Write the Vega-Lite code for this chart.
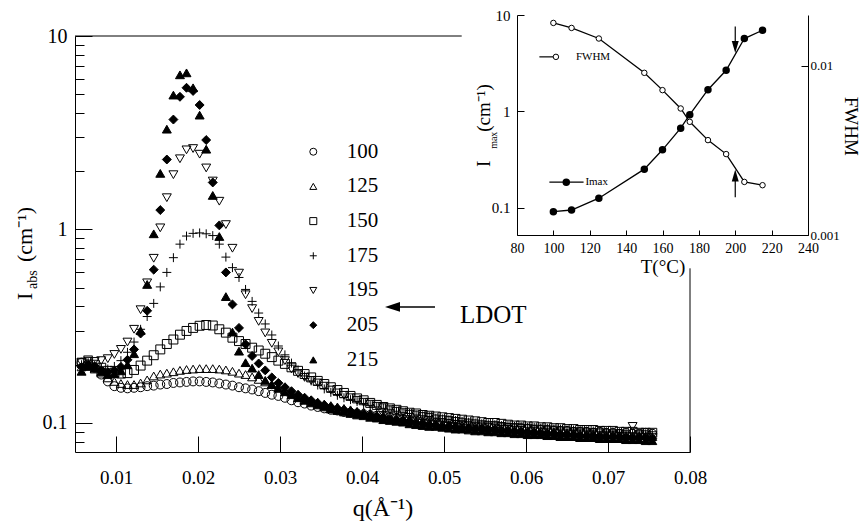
{
"$schema":"https://vega.github.io/schema/vega-lite/v6.json",
"width":615,"height":416,
"autosize":{"type":"none"},
"padding":{"left":75,"top":36,"right":177,"bottom":73},
"background":"white",
"config":{"view":{"stroke":null},
"axis":{"grid":false,"domainColor":"black","tickColor":"black","labelColor":"black","titleColor":"black","labelFont":"Liberation Serif","titleFont":"Liberation Serif","titleFontWeight":"normal","domainWidth":1,"tickWidth":1,"labelFlush":false,"labelOverlap":false},
"text":{"font":"Liberation Serif","color":"black"}},
"datasets":{
"scat":[
{"s":"100","q":0.0058,"I":0.205},{"s":"100","q":0.0066,"I":0.201},{"s":"100","q":0.0074,"I":0.193},{"s":"100","q":0.0082,"I":0.178},{"s":"100","q":0.009,"I":0.164},{"s":"100","q":0.0098,"I":0.155},{"s":"100","q":0.0106,"I":0.152},{"s":"100","q":0.0114,"I":0.151},{"s":"100","q":0.0122,"I":0.152},{"s":"100","q":0.013,"I":0.153},
{"s":"100","q":0.0138,"I":0.155},{"s":"100","q":0.0146,"I":0.156},{"s":"100","q":0.0154,"I":0.158},{"s":"100","q":0.0162,"I":0.159},{"s":"100","q":0.017,"I":0.161},{"s":"100","q":0.0178,"I":0.162},{"s":"100","q":0.0186,"I":0.163},{"s":"100","q":0.0194,"I":0.164},{"s":"100","q":0.0202,"I":0.164},{"s":"100","q":0.021,"I":0.163},
{"s":"100","q":0.0218,"I":0.162},{"s":"100","q":0.0226,"I":0.160},{"s":"100","q":0.0234,"I":0.158},{"s":"100","q":0.0242,"I":0.156},{"s":"100","q":0.025,"I":0.153},{"s":"100","q":0.0258,"I":0.151},{"s":"100","q":0.0266,"I":0.149},{"s":"100","q":0.0274,"I":0.146},{"s":"100","q":0.0282,"I":0.143},{"s":"100","q":0.029,"I":0.140},
{"s":"100","q":0.0298,"I":0.138},{"s":"100","q":0.0306,"I":0.135},{"s":"100","q":0.0314,"I":0.131},{"s":"100","q":0.0322,"I":0.128},{"s":"100","q":0.033,"I":0.126},{"s":"100","q":0.0338,"I":0.123},{"s":"100","q":0.0346,"I":0.121},{"s":"100","q":0.0354,"I":0.119},{"s":"100","q":0.0362,"I":0.117},{"s":"100","q":0.037,"I":0.116},
{"s":"100","q":0.0378,"I":0.114},{"s":"100","q":0.0386,"I":0.113},{"s":"100","q":0.0394,"I":0.112},{"s":"100","q":0.0402,"I":0.111},{"s":"100","q":0.041,"I":0.110},{"s":"100","q":0.0418,"I":0.109},{"s":"100","q":0.0426,"I":0.108},{"s":"100","q":0.0434,"I":0.107},{"s":"100","q":0.0442,"I":0.106},{"s":"100","q":0.045,"I":0.105},
{"s":"100","q":0.0458,"I":0.104},{"s":"100","q":0.0466,"I":0.103},{"s":"100","q":0.0474,"I":0.102},{"s":"100","q":0.0482,"I":0.101},{"s":"100","q":0.049,"I":0.100},{"s":"100","q":0.0498,"I":0.100},{"s":"100","q":0.0506,"I":0.099},{"s":"100","q":0.0514,"I":0.098},{"s":"100","q":0.0522,"I":0.098},{"s":"100","q":0.053,"I":0.097},
{"s":"100","q":0.0538,"I":0.096},{"s":"100","q":0.0546,"I":0.096},{"s":"100","q":0.0554,"I":0.095},{"s":"100","q":0.0562,"I":0.095},{"s":"100","q":0.057,"I":0.094},{"s":"100","q":0.0578,"I":0.094},{"s":"100","q":0.0586,"I":0.093},{"s":"100","q":0.0594,"I":0.094},{"s":"100","q":0.0602,"I":0.093},{"s":"100","q":0.061,"I":0.092},
{"s":"100","q":0.0618,"I":0.092},{"s":"100","q":0.0626,"I":0.092},{"s":"100","q":0.0634,"I":0.091},{"s":"100","q":0.0642,"I":0.091},{"s":"100","q":0.065,"I":0.091},{"s":"100","q":0.0658,"I":0.090},{"s":"100","q":0.0666,"I":0.090},{"s":"100","q":0.0674,"I":0.090},{"s":"100","q":0.0682,"I":0.089},{"s":"100","q":0.069,"I":0.090},
{"s":"100","q":0.0698,"I":0.089},{"s":"100","q":0.0706,"I":0.089},{"s":"100","q":0.0714,"I":0.088},{"s":"100","q":0.0722,"I":0.089},{"s":"100","q":0.073,"I":0.088},{"s":"100","q":0.0738,"I":0.088},{"s":"100","q":0.0746,"I":0.089},{"s":"100","q":0.0754,"I":0.088},

{"s":"125","q":0.0058,"I":0.195},{"s":"125","q":0.0066,"I":0.197},{"s":"125","q":0.0074,"I":0.190},{"s":"125","q":0.0082,"I":0.181},{"s":"125","q":0.009,"I":0.171},{"s":"125","q":0.0098,"I":0.164},{"s":"125","q":0.0106,"I":0.160},{"s":"125","q":0.0114,"I":0.158},{"s":"125","q":0.0122,"I":0.158},{"s":"125","q":0.013,"I":0.161},
{"s":"125","q":0.0138,"I":0.167},{"s":"125","q":0.0146,"I":0.175},{"s":"125","q":0.0154,"I":0.179},{"s":"125","q":0.0162,"I":0.181},{"s":"125","q":0.017,"I":0.184},{"s":"125","q":0.0178,"I":0.187},{"s":"125","q":0.0186,"I":0.189},{"s":"125","q":0.0194,"I":0.190},{"s":"125","q":0.0202,"I":0.191},{"s":"125","q":0.021,"I":0.191},
{"s":"125","q":0.0218,"I":0.191},{"s":"125","q":0.0226,"I":0.190},{"s":"125","q":0.0234,"I":0.188},{"s":"125","q":0.0242,"I":0.185},{"s":"125","q":0.025,"I":0.181},{"s":"125","q":0.0258,"I":0.178},{"s":"125","q":0.0266,"I":0.173},{"s":"125","q":0.0274,"I":0.168},{"s":"125","q":0.0282,"I":0.163},{"s":"125","q":0.029,"I":0.158},
{"s":"125","q":0.0298,"I":0.153},{"s":"125","q":0.0306,"I":0.148},{"s":"125","q":0.0314,"I":0.143},{"s":"125","q":0.0322,"I":0.139},{"s":"125","q":0.033,"I":0.135},{"s":"125","q":0.0338,"I":0.131},{"s":"125","q":0.0346,"I":0.128},{"s":"125","q":0.0354,"I":0.125},{"s":"125","q":0.0362,"I":0.123},{"s":"125","q":0.037,"I":0.121},
{"s":"125","q":0.0378,"I":0.119},{"s":"125","q":0.0386,"I":0.117},{"s":"125","q":0.0394,"I":0.115},{"s":"125","q":0.0402,"I":0.114},{"s":"125","q":0.041,"I":0.112},{"s":"125","q":0.0418,"I":0.110},{"s":"125","q":0.0426,"I":0.109},{"s":"125","q":0.0434,"I":0.108},{"s":"125","q":0.0442,"I":0.106},{"s":"125","q":0.045,"I":0.105},
{"s":"125","q":0.0458,"I":0.104},{"s":"125","q":0.0466,"I":0.103},{"s":"125","q":0.0474,"I":0.102},{"s":"125","q":0.0482,"I":0.101},{"s":"125","q":0.049,"I":0.100},{"s":"125","q":0.0498,"I":0.099},{"s":"125","q":0.0506,"I":0.098},{"s":"125","q":0.0514,"I":0.098},{"s":"125","q":0.0522,"I":0.097},{"s":"125","q":0.053,"I":0.096},
{"s":"125","q":0.0538,"I":0.096},{"s":"125","q":0.0546,"I":0.095},{"s":"125","q":0.0554,"I":0.094},{"s":"125","q":0.0562,"I":0.094},{"s":"125","q":0.057,"I":0.093},{"s":"125","q":0.0578,"I":0.093},{"s":"125","q":0.0586,"I":0.092},{"s":"125","q":0.0594,"I":0.092},{"s":"125","q":0.0602,"I":0.091},{"s":"125","q":0.061,"I":0.091},
{"s":"125","q":0.0618,"I":0.091},{"s":"125","q":0.0626,"I":0.090},{"s":"125","q":0.0634,"I":0.090},{"s":"125","q":0.0642,"I":0.089},{"s":"125","q":0.065,"I":0.089},{"s":"125","q":0.0658,"I":0.089},{"s":"125","q":0.0666,"I":0.088},{"s":"125","q":0.0674,"I":0.088},{"s":"125","q":0.0682,"I":0.088},{"s":"125","q":0.069,"I":0.087},
{"s":"125","q":0.0698,"I":0.087},{"s":"125","q":0.0706,"I":0.087},{"s":"125","q":0.0714,"I":0.087},{"s":"125","q":0.0722,"I":0.086},{"s":"125","q":0.073,"I":0.086},{"s":"125","q":0.0738,"I":0.086},{"s":"125","q":0.0746,"I":0.086},{"s":"125","q":0.0754,"I":0.085},

{"s":"150","q":0.0058,"I":0.205},{"s":"150","q":0.0066,"I":0.207},{"s":"150","q":0.0074,"I":0.200},{"s":"150","q":0.0082,"I":0.193},{"s":"150","q":0.009,"I":0.186},{"s":"150","q":0.0098,"I":0.182},{"s":"150","q":0.0106,"I":0.180},{"s":"150","q":0.0114,"I":0.181},{"s":"150","q":0.0122,"I":0.188},{"s":"150","q":0.013,"I":0.198},
{"s":"150","q":0.0138,"I":0.210},{"s":"150","q":0.0146,"I":0.224},{"s":"150","q":0.0154,"I":0.240},{"s":"150","q":0.0162,"I":0.256},{"s":"150","q":0.017,"I":0.270},{"s":"150","q":0.0178,"I":0.286},{"s":"150","q":0.0186,"I":0.299},{"s":"150","q":0.0194,"I":0.310},{"s":"150","q":0.0202,"I":0.318},{"s":"150","q":0.021,"I":0.321},
{"s":"150","q":0.0218,"I":0.319},{"s":"150","q":0.0226,"I":0.305},{"s":"150","q":0.0234,"I":0.293},{"s":"150","q":0.0242,"I":0.276},{"s":"150","q":0.025,"I":0.265},{"s":"150","q":0.0258,"I":0.256},{"s":"150","q":0.0266,"I":0.245},{"s":"150","q":0.0274,"I":0.237},{"s":"150","q":0.0282,"I":0.228},{"s":"150","q":0.029,"I":0.219},
{"s":"150","q":0.0298,"I":0.210},{"s":"150","q":0.0306,"I":0.202},{"s":"150","q":0.0314,"I":0.194},{"s":"150","q":0.0322,"I":0.186},{"s":"150","q":0.033,"I":0.179},{"s":"150","q":0.0338,"I":0.172},{"s":"150","q":0.0346,"I":0.165},{"s":"150","q":0.0354,"I":0.159},{"s":"150","q":0.0362,"I":0.153},{"s":"150","q":0.037,"I":0.148},
{"s":"150","q":0.0378,"I":0.143},{"s":"150","q":0.0386,"I":0.138},{"s":"150","q":0.0394,"I":0.134},{"s":"150","q":0.0402,"I":0.131},{"s":"150","q":0.041,"I":0.127},{"s":"150","q":0.0418,"I":0.124},{"s":"150","q":0.0426,"I":0.121},{"s":"150","q":0.0434,"I":0.119},{"s":"150","q":0.0442,"I":0.117},{"s":"150","q":0.045,"I":0.115},
{"s":"150","q":0.0458,"I":0.113},{"s":"150","q":0.0466,"I":0.112},{"s":"150","q":0.0474,"I":0.110},{"s":"150","q":0.0482,"I":0.109},{"s":"150","q":0.049,"I":0.108},{"s":"150","q":0.0498,"I":0.107},{"s":"150","q":0.0506,"I":0.106},{"s":"150","q":0.0514,"I":0.105},{"s":"150","q":0.0522,"I":0.104},{"s":"150","q":0.053,"I":0.103},
{"s":"150","q":0.0538,"I":0.102},{"s":"150","q":0.0546,"I":0.101},{"s":"150","q":0.0554,"I":0.100},{"s":"150","q":0.0562,"I":0.100},{"s":"150","q":0.057,"I":0.099},{"s":"150","q":0.0578,"I":0.098},{"s":"150","q":0.0586,"I":0.097},{"s":"150","q":0.0594,"I":0.097},{"s":"150","q":0.0602,"I":0.096},{"s":"150","q":0.061,"I":0.096},
{"s":"150","q":0.0618,"I":0.095},{"s":"150","q":0.0626,"I":0.095},{"s":"150","q":0.0634,"I":0.094},{"s":"150","q":0.0642,"I":0.094},{"s":"150","q":0.065,"I":0.093},{"s":"150","q":0.0658,"I":0.093},{"s":"150","q":0.0666,"I":0.092},{"s":"150","q":0.0674,"I":0.092},{"s":"150","q":0.0682,"I":0.092},{"s":"150","q":0.069,"I":0.091},
{"s":"150","q":0.0698,"I":0.091},{"s":"150","q":0.0706,"I":0.091},{"s":"150","q":0.0714,"I":0.090},{"s":"150","q":0.0722,"I":0.090},{"s":"150","q":0.073,"I":0.090},{"s":"150","q":0.0738,"I":0.089},{"s":"150","q":0.0746,"I":0.089},{"s":"150","q":0.0754,"I":0.089},

{"s":"175","q":0.0058,"I":0.200},{"s":"175","q":0.0066,"I":0.205},{"s":"175","q":0.0074,"I":0.198},{"s":"175","q":0.0082,"I":0.192},{"s":"175","q":0.009,"I":0.190},{"s":"175","q":0.0098,"I":0.196},{"s":"175","q":0.0106,"I":0.210},{"s":"175","q":0.0114,"I":0.232},{"s":"175","q":0.0122,"I":0.262},{"s":"175","q":0.013,"I":0.305},
{"s":"175","q":0.0138,"I":0.355},{"s":"175","q":0.0146,"I":0.415},{"s":"175","q":0.0154,"I":0.505},{"s":"175","q":0.0162,"I":0.600},{"s":"175","q":0.017,"I":0.715},{"s":"175","q":0.0178,"I":0.840},{"s":"175","q":0.0186,"I":0.925},{"s":"175","q":0.0194,"I":0.955},{"s":"175","q":0.0202,"I":0.960},{"s":"175","q":0.021,"I":0.950},
{"s":"175","q":0.0218,"I":0.930},{"s":"175","q":0.0226,"I":0.840},{"s":"175","q":0.0234,"I":0.720},{"s":"175","q":0.0242,"I":0.635},{"s":"175","q":0.025,"I":0.565},{"s":"175","q":0.0258,"I":0.490},{"s":"175","q":0.0266,"I":0.425},{"s":"175","q":0.0274,"I":0.370},{"s":"175","q":0.0282,"I":0.325},{"s":"175","q":0.029,"I":0.285},
{"s":"175","q":0.0298,"I":0.250},{"s":"175","q":0.0306,"I":0.225},{"s":"175","q":0.0314,"I":0.204},{"s":"175","q":0.0322,"I":0.188},{"s":"175","q":0.033,"I":0.175},{"s":"175","q":0.0338,"I":0.165},{"s":"175","q":0.0346,"I":0.157},{"s":"175","q":0.0354,"I":0.150},{"s":"175","q":0.0362,"I":0.144},{"s":"175","q":0.037,"I":0.139},
{"s":"175","q":0.0378,"I":0.135},{"s":"175","q":0.0386,"I":0.132},{"s":"175","q":0.0394,"I":0.129},{"s":"175","q":0.0402,"I":0.126},{"s":"175","q":0.041,"I":0.123},{"s":"175","q":0.0418,"I":0.121},{"s":"175","q":0.0426,"I":0.119},{"s":"175","q":0.0434,"I":0.117},{"s":"175","q":0.0442,"I":0.115},{"s":"175","q":0.045,"I":0.113},
{"s":"175","q":0.0458,"I":0.112},{"s":"175","q":0.0466,"I":0.110},{"s":"175","q":0.0474,"I":0.109},{"s":"175","q":0.0482,"I":0.108},{"s":"175","q":0.049,"I":0.106},{"s":"175","q":0.0498,"I":0.105},{"s":"175","q":0.0506,"I":0.104},{"s":"175","q":0.0514,"I":0.103},{"s":"175","q":0.0522,"I":0.102},{"s":"175","q":0.053,"I":0.101},
{"s":"175","q":0.0538,"I":0.100},{"s":"175","q":0.0546,"I":0.099},{"s":"175","q":0.0554,"I":0.099},{"s":"175","q":0.0562,"I":0.098},{"s":"175","q":0.057,"I":0.097},{"s":"175","q":0.0578,"I":0.097},{"s":"175","q":0.0586,"I":0.096},{"s":"175","q":0.0594,"I":0.096},{"s":"175","q":0.0602,"I":0.095},{"s":"175","q":0.061,"I":0.095},
{"s":"175","q":0.0618,"I":0.094},{"s":"175","q":0.0626,"I":0.094},{"s":"175","q":0.0634,"I":0.093},{"s":"175","q":0.0642,"I":0.093},{"s":"175","q":0.065,"I":0.092},{"s":"175","q":0.0658,"I":0.092},{"s":"175","q":0.0666,"I":0.092},{"s":"175","q":0.0674,"I":0.091},{"s":"175","q":0.0682,"I":0.091},{"s":"175","q":0.069,"I":0.090},
{"s":"175","q":0.0698,"I":0.090},{"s":"175","q":0.0706,"I":0.090},{"s":"175","q":0.0714,"I":0.089},{"s":"175","q":0.0722,"I":0.089},{"s":"175","q":0.073,"I":0.089},{"s":"175","q":0.0738,"I":0.088},{"s":"175","q":0.0746,"I":0.088},{"s":"175","q":0.0754,"I":0.088},

{"s":"195","q":0.0058,"I":0.205},{"s":"195","q":0.0066,"I":0.212},{"s":"195","q":0.0074,"I":0.208},{"s":"195","q":0.0082,"I":0.210},{"s":"195","q":0.009,"I":0.215},{"s":"195","q":0.0098,"I":0.226},{"s":"195","q":0.0106,"I":0.240},{"s":"195","q":0.0114,"I":0.262},{"s":"195","q":0.0122,"I":0.305},{"s":"195","q":0.013,"I":0.385},
{"s":"195","q":0.0138,"I":0.530},{"s":"195","q":0.0146,"I":0.710},{"s":"195","q":0.0154,"I":1.02},{"s":"195","q":0.0162,"I":1.46},{"s":"195","q":0.017,"I":1.92},{"s":"195","q":0.0178,"I":2.32},{"s":"195","q":0.0186,"I":2.58},{"s":"195","q":0.0194,"I":2.62},{"s":"195","q":0.0202,"I":2.45},{"s":"195","q":0.021,"I":2.08},
{"s":"195","q":0.0218,"I":1.78},{"s":"195","q":0.0226,"I":1.40},{"s":"195","q":0.0234,"I":1.06},{"s":"195","q":0.0242,"I":0.800},{"s":"195","q":0.025,"I":0.595},{"s":"195","q":0.0258,"I":0.460},{"s":"195","q":0.0266,"I":0.390},{"s":"195","q":0.0274,"I":0.335},{"s":"195","q":0.0282,"I":0.292},{"s":"195","q":0.029,"I":0.258},
{"s":"195","q":0.0298,"I":0.233},{"s":"195","q":0.0306,"I":0.210},{"s":"195","q":0.0314,"I":0.190},{"s":"195","q":0.0322,"I":0.180},{"s":"195","q":0.033,"I":0.172},{"s":"195","q":0.0338,"I":0.166},{"s":"195","q":0.0346,"I":0.161},{"s":"195","q":0.0354,"I":0.155},{"s":"195","q":0.0362,"I":0.148},{"s":"195","q":0.037,"I":0.143},
{"s":"195","q":0.0378,"I":0.139},{"s":"195","q":0.0386,"I":0.135},{"s":"195","q":0.0394,"I":0.131},{"s":"195","q":0.0402,"I":0.128},{"s":"195","q":0.041,"I":0.125},{"s":"195","q":0.0418,"I":0.122},{"s":"195","q":0.0426,"I":0.120},{"s":"195","q":0.0434,"I":0.117},{"s":"195","q":0.0442,"I":0.115},{"s":"195","q":0.045,"I":0.113},
{"s":"195","q":0.0458,"I":0.111},{"s":"195","q":0.0466,"I":0.110},{"s":"195","q":0.0474,"I":0.108},{"s":"195","q":0.0482,"I":0.107},{"s":"195","q":0.049,"I":0.105},{"s":"195","q":0.0498,"I":0.104},{"s":"195","q":0.0506,"I":0.103},{"s":"195","q":0.0514,"I":0.102},{"s":"195","q":0.0522,"I":0.101},{"s":"195","q":0.053,"I":0.100},
{"s":"195","q":0.0538,"I":0.099},{"s":"195","q":0.0546,"I":0.098},{"s":"195","q":0.0554,"I":0.097},{"s":"195","q":0.0562,"I":0.097},{"s":"195","q":0.057,"I":0.096},{"s":"195","q":0.0578,"I":0.095},{"s":"195","q":0.0586,"I":0.095},{"s":"195","q":0.0594,"I":0.094},{"s":"195","q":0.0602,"I":0.094},{"s":"195","q":0.061,"I":0.093},
{"s":"195","q":0.0618,"I":0.093},{"s":"195","q":0.0626,"I":0.092},{"s":"195","q":0.0634,"I":0.092},{"s":"195","q":0.0642,"I":0.091},{"s":"195","q":0.065,"I":0.091},{"s":"195","q":0.0658,"I":0.090},{"s":"195","q":0.0666,"I":0.090},{"s":"195","q":0.0674,"I":0.089},{"s":"195","q":0.0682,"I":0.089},{"s":"195","q":0.069,"I":0.089},
{"s":"195","q":0.0698,"I":0.088},{"s":"195","q":0.0706,"I":0.088},{"s":"195","q":0.0714,"I":0.088},{"s":"195","q":0.0722,"I":0.087},{"s":"195","q":0.073,"I":0.096},{"s":"195","q":0.0738,"I":0.087},{"s":"195","q":0.0746,"I":0.087},{"s":"195","q":0.0754,"I":0.086},

{"s":"205","q":0.0058,"I":0.195},{"s":"205","q":0.0066,"I":0.200},{"s":"205","q":0.0074,"I":0.196},{"s":"205","q":0.0082,"I":0.188},{"s":"205","q":0.009,"I":0.183},{"s":"205","q":0.0098,"I":0.186},{"s":"205","q":0.0106,"I":0.195},{"s":"205","q":0.0114,"I":0.212},{"s":"205","q":0.0122,"I":0.240},{"s":"205","q":0.013,"I":0.290},
{"s":"205","q":0.0138,"I":0.380},{"s":"205","q":0.0146,"I":0.620},{"s":"205","q":0.0154,"I":1.26},{"s":"205","q":0.0162,"I":2.30},{"s":"205","q":0.017,"I":3.70},{"s":"205","q":0.0178,"I":4.85},{"s":"205","q":0.0186,"I":5.40},{"s":"205","q":0.0194,"I":5.20},{"s":"205","q":0.0202,"I":4.40},{"s":"205","q":0.021,"I":2.90},
{"s":"205","q":0.0218,"I":1.75},{"s":"205","q":0.0226,"I":1.05},{"s":"205","q":0.0234,"I":0.600},{"s":"205","q":0.0242,"I":0.410},{"s":"205","q":0.025,"I":0.310},{"s":"205","q":0.0258,"I":0.255},{"s":"205","q":0.0266,"I":0.222},{"s":"205","q":0.0274,"I":0.203},{"s":"205","q":0.0282,"I":0.187},{"s":"205","q":0.029,"I":0.172},
{"s":"205","q":0.0298,"I":0.161},{"s":"205","q":0.0306,"I":0.153},{"s":"205","q":0.0314,"I":0.146},{"s":"205","q":0.0322,"I":0.140},{"s":"205","q":0.033,"I":0.135},{"s":"205","q":0.0338,"I":0.131},{"s":"205","q":0.0346,"I":0.127},{"s":"205","q":0.0354,"I":0.124},{"s":"205","q":0.0362,"I":0.121},{"s":"205","q":0.037,"I":0.119},
{"s":"205","q":0.0378,"I":0.117},{"s":"205","q":0.0386,"I":0.115},{"s":"205","q":0.0394,"I":0.113},{"s":"205","q":0.0402,"I":0.111},{"s":"205","q":0.041,"I":0.110},{"s":"205","q":0.0418,"I":0.108},{"s":"205","q":0.0426,"I":0.107},{"s":"205","q":0.0434,"I":0.105},{"s":"205","q":0.0442,"I":0.104},{"s":"205","q":0.045,"I":0.103},
{"s":"205","q":0.0458,"I":0.102},{"s":"205","q":0.0466,"I":0.100},{"s":"205","q":0.0474,"I":0.099},{"s":"205","q":0.0482,"I":0.098},{"s":"205","q":0.049,"I":0.097},{"s":"205","q":0.0498,"I":0.096},{"s":"205","q":0.0506,"I":0.096},{"s":"205","q":0.0514,"I":0.095},{"s":"205","q":0.0522,"I":0.094},{"s":"205","q":0.053,"I":0.094},
{"s":"205","q":0.0538,"I":0.093},{"s":"205","q":0.0546,"I":0.093},{"s":"205","q":0.0554,"I":0.092},{"s":"205","q":0.0562,"I":0.092},{"s":"205","q":0.057,"I":0.091},{"s":"205","q":0.0578,"I":0.091},{"s":"205","q":0.0586,"I":0.090},{"s":"205","q":0.0594,"I":0.090},{"s":"205","q":0.0602,"I":0.089},{"s":"205","q":0.061,"I":0.089},
{"s":"205","q":0.0618,"I":0.088},{"s":"205","q":0.0626,"I":0.088},{"s":"205","q":0.0634,"I":0.088},{"s":"205","q":0.0642,"I":0.087},{"s":"205","q":0.065,"I":0.087},{"s":"205","q":0.0658,"I":0.087},{"s":"205","q":0.0666,"I":0.086},{"s":"205","q":0.0674,"I":0.086},{"s":"205","q":0.0682,"I":0.086},{"s":"205","q":0.069,"I":0.085},
{"s":"205","q":0.0698,"I":0.085},{"s":"205","q":0.0706,"I":0.085},{"s":"205","q":0.0714,"I":0.085},{"s":"205","q":0.0722,"I":0.084},{"s":"205","q":0.073,"I":0.084},{"s":"205","q":0.0738,"I":0.084},{"s":"205","q":0.0746,"I":0.084},{"s":"205","q":0.0754,"I":0.083},

{"s":"215","q":0.0058,"I":0.185},{"s":"215","q":0.0066,"I":0.196},{"s":"215","q":0.0074,"I":0.192},{"s":"215","q":0.0082,"I":0.184},{"s":"215","q":0.009,"I":0.178},{"s":"215","q":0.0098,"I":0.180},{"s":"215","q":0.0106,"I":0.186},{"s":"215","q":0.0114,"I":0.200},{"s":"215","q":0.0122,"I":0.228},{"s":"215","q":0.013,"I":0.300},
{"s":"215","q":0.0138,"I":0.520},{"s":"215","q":0.0146,"I":0.950},{"s":"215","q":0.0154,"I":1.95},{"s":"215","q":0.0162,"I":3.30},{"s":"215","q":0.017,"I":4.95},{"s":"215","q":0.0178,"I":6.30},{"s":"215","q":0.0186,"I":6.45},{"s":"215","q":0.0194,"I":5.40},{"s":"215","q":0.0202,"I":3.90},{"s":"215","q":0.021,"I":2.60},
{"s":"215","q":0.0218,"I":1.50},{"s":"215","q":0.0226,"I":0.920},{"s":"215","q":0.0234,"I":0.450},{"s":"215","q":0.0242,"I":0.295},{"s":"215","q":0.025,"I":0.235},{"s":"215","q":0.0258,"I":0.205},{"s":"215","q":0.0266,"I":0.192},{"s":"215","q":0.0274,"I":0.178},{"s":"215","q":0.0282,"I":0.166},{"s":"215","q":0.029,"I":0.158},
{"s":"215","q":0.0298,"I":0.151},{"s":"215","q":0.0306,"I":0.145},{"s":"215","q":0.0314,"I":0.140},{"s":"215","q":0.0322,"I":0.135},{"s":"215","q":0.033,"I":0.131},{"s":"215","q":0.0338,"I":0.127},{"s":"215","q":0.0346,"I":0.124},{"s":"215","q":0.0354,"I":0.121},{"s":"215","q":0.0362,"I":0.118},{"s":"215","q":0.037,"I":0.116},
{"s":"215","q":0.0378,"I":0.114},{"s":"215","q":0.0386,"I":0.112},{"s":"215","q":0.0394,"I":0.110},{"s":"215","q":0.0402,"I":0.109},{"s":"215","q":0.041,"I":0.107},{"s":"215","q":0.0418,"I":0.106},{"s":"215","q":0.0426,"I":0.104},{"s":"215","q":0.0434,"I":0.103},{"s":"215","q":0.0442,"I":0.102},{"s":"215","q":0.045,"I":0.101},
{"s":"215","q":0.0458,"I":0.099},{"s":"215","q":0.0466,"I":0.098},{"s":"215","q":0.0474,"I":0.097},{"s":"215","q":0.0482,"I":0.096},{"s":"215","q":0.049,"I":0.096},{"s":"215","q":0.0498,"I":0.095},{"s":"215","q":0.0506,"I":0.094},{"s":"215","q":0.0514,"I":0.093},{"s":"215","q":0.0522,"I":0.093},{"s":"215","q":0.053,"I":0.092},
{"s":"215","q":0.0538,"I":0.091},{"s":"215","q":0.0546,"I":0.091},{"s":"215","q":0.0554,"I":0.090},{"s":"215","q":0.0562,"I":0.090},{"s":"215","q":0.057,"I":0.089},{"s":"215","q":0.0578,"I":0.089},{"s":"215","q":0.0586,"I":0.088},{"s":"215","q":0.0594,"I":0.088},{"s":"215","q":0.0602,"I":0.087},{"s":"215","q":0.061,"I":0.087},
{"s":"215","q":0.0618,"I":0.087},{"s":"215","q":0.0626,"I":0.086},{"s":"215","q":0.0634,"I":0.086},{"s":"215","q":0.0642,"I":0.085},{"s":"215","q":0.065,"I":0.085},{"s":"215","q":0.0658,"I":0.085},{"s":"215","q":0.0666,"I":0.084},{"s":"215","q":0.0674,"I":0.084},{"s":"215","q":0.0682,"I":0.084},{"s":"215","q":0.069,"I":0.083},
{"s":"215","q":0.0698,"I":0.083},{"s":"215","q":0.0706,"I":0.083},{"s":"215","q":0.0714,"I":0.083},{"s":"215","q":0.0722,"I":0.082},{"s":"215","q":0.073,"I":0.082},{"s":"215","q":0.0738,"I":0.082},{"s":"215","q":0.0746,"I":0.081},{"s":"215","q":0.0754,"I":0.081}
],
"imax":[{"T":100,"Imax":0.0912},{"T":110,"Imax":0.095},{"T":125,"Imax":0.126},{"T":150,"Imax":0.252},{"T":160,"Imax":0.40},{"T":170,"Imax":0.671},{"T":175,"Imax":0.924},{"T":185,"Imax":1.68},{"T":195,"Imax":2.67},{"T":205,"Imax":5.70},{"T":215,"Imax":6.95}],
"fwhm":[{"T":100,"FWHM":0.01795},{"T":110,"FWHM":0.01677},{"T":125,"FWHM":0.01452},{"T":150,"FWHM":0.0091},{"T":160,"FWHM":0.00719},{"T":170,"FWHM":0.0056},{"T":175,"FWHM":0.00467},{"T":185,"FWHM":0.00364},{"T":195,"FWHM":0.00301},{"T":205,"FWHM":0.00206},{"T":215,"FWHM":0.00197}]
},
"layer":[
{
"layer":[
{"data":{"name":"scat"},
"mark":{"type":"point","stroke":"black","strokeWidth":1,"size":80,"opacity":1},
"encoding":{
"x":{"field":"q","type":"quantitative","scale":{"domain":[0.005,0.08],"nice":false,"zero":false},"axis":{"orient":"bottom","values":[0.01,0.02,0.03,0.04,0.05,0.06,0.07,0.08],"format":".2f","tickSize":-16,"labelPadding":32,"labelFontSize":19,"title":"q(Å⁻¹)","titleFontSize":24,"titlePadding":9}},
"y":{"field":"I","type":"quantitative","scale":{"type":"log","domain":[0.0708,10],"nice":false},"axis":{"orient":"left","values":[0.08,0.09,0.1,0.2,0.3,0.4,0.5,0.6,0.7,0.8,0.9,1,2,3,4,5,6,7,8,9,10],"format":"~g","labelExpr":"datum.value==0.1||datum.value==1||datum.value==10 ? datum.label : ''","tickSize":{"condition":{"test":"datum.value==0.1||datum.value==1||datum.value==10","value":-17},"value":-9},"labelPadding":25,"labelFontSize":20,"title":null}},
"shape":{"field":"s","type":"nominal","scale":{"domain":["100","125","150","175","195","205","215"],"range":["circle","triangle-up","square","M-1,0L1,0M0,-1L0,1","triangle-down","diamond","triangle-up"]},"legend":null},
"fill":{"field":"s","type":"nominal","scale":{"domain":["100","125","150","175","195","205","215"],"range":["transparent","transparent","transparent","transparent","transparent","black","black"]},"legend":null}
}},
{"data":{"values":[{}]},"mark":{"type":"rule","stroke":"black","strokeWidth":1},
"encoding":{"x":{"datum":0.005,"type":"quantitative"},"x2":{"datum":0.05216},"y":{"datum":10,"type":"quantitative"}}},
{"data":{"values":[{}]},"mark":{"type":"rule","stroke":"black","strokeWidth":1},
"encoding":{"x":{"datum":0.08,"type":"quantitative"},"y":{"datum":0.0708,"type":"quantitative"},"y2":{"datum":0.63}}},
{"data":{"values":[{}]},"mark":{"type":"rule","stroke":"black","strokeWidth":1.5},
"encoding":{"x":{"datum":0.0435,"type":"quantitative"},"x2":{"datum":0.0489},"y":{"datum":0.3976,"type":"quantitative"}}},
{"data":{"values":[{}]},"mark":{"type":"point","shape":"M-1,0L1,-0.65L1,0.65Z","filled":true,"fill":"black","stroke":null,"size":225,"opacity":1},
"encoding":{"x":{"datum":0.04372,"type":"quantitative"},"y":{"datum":0.3976,"type":"quantitative"}}},
{"data":{"values":[{}]},"mark":{"type":"text","text":"LDOT","fontSize":25,"align":"left","baseline":"middle"},
"encoding":{"x":{"datum":0.05195,"type":"quantitative"},"y":{"datum":0.3614,"type":"quantitative"}}},
{"data":{"values":[{}]},"mark":{"type":"text","text":"I","fontSize":22,"align":"left","baseline":"alphabetic","angle":270,"dy":-43},
"encoding":{"x":{"datum":0.005,"type":"quantitative"},"y":{"datum":0.4323,"type":"quantitative"}}},
{"data":{"values":[{}]},"mark":{"type":"text","text":"abs","fontSize":14,"align":"left","baseline":"alphabetic","angle":270,"dy":-38},
"encoding":{"x":{"datum":0.005,"type":"quantitative"},"y":{"datum":0.4927,"type":"quantitative"}}},
{"data":{"values":[{}]},"mark":{"type":"text","text":"(cm⁻¹)","fontSize":22,"align":"left","baseline":"alphabetic","angle":270,"dy":-43},
"encoding":{"x":{"datum":0.005,"type":"quantitative"},"y":{"datum":0.679,"type":"quantitative"}}},
{"data":{"values":[{}]},"mark":{"type":"point","shape":"circle","filled":false,"stroke":"black","strokeWidth":1,"size":49,"opacity":1},
"encoding":{"x":{"datum":0.03406,"type":"quantitative"},"y":{"datum":2.523,"type":"quantitative"}}},
{"data":{"values":[{}]},"mark":{"type":"point","shape":"triangle-up","filled":false,"stroke":"black","strokeWidth":1,"size":49,"opacity":1},
"encoding":{"x":{"datum":0.03406,"type":"quantitative"},"y":{"datum":1.670,"type":"quantitative"}}},
{"data":{"values":[{}]},"mark":{"type":"point","shape":"square","filled":false,"stroke":"black","strokeWidth":1,"size":49,"opacity":1},
"encoding":{"x":{"datum":0.03406,"type":"quantitative"},"y":{"datum":1.105,"type":"quantitative"}}},
{"data":{"values":[{}]},"mark":{"type":"point","shape":"M-1,0L1,0M0,-1L0,1","filled":false,"stroke":"black","strokeWidth":1,"size":49,"opacity":1},
"encoding":{"x":{"datum":0.03406,"type":"quantitative"},"y":{"datum":0.7313,"type":"quantitative"}}},
{"data":{"values":[{}]},"mark":{"type":"point","shape":"triangle-down","filled":false,"stroke":"black","strokeWidth":1,"size":49,"opacity":1},
"encoding":{"x":{"datum":0.03406,"type":"quantitative"},"y":{"datum":0.4840,"type":"quantitative"}}},
{"data":{"values":[{}]},"mark":{"type":"point","shape":"diamond","filled":true,"fill":"black","stroke":"black","strokeWidth":1,"size":49,"opacity":1},
"encoding":{"x":{"datum":0.03406,"type":"quantitative"},"y":{"datum":0.3203,"type":"quantitative"}}},
{"data":{"values":[{}]},"mark":{"type":"point","shape":"triangle-up","filled":true,"fill":"black","stroke":"black","strokeWidth":1,"size":49,"opacity":1},
"encoding":{"x":{"datum":0.03406,"type":"quantitative"},"y":{"datum":0.2119,"type":"quantitative"}}},
{"data":{"values":[{}]},"mark":{"type":"text","text":"100","fontSize":21,"align":"left","baseline":"middle"},
"encoding":{"x":{"datum":0.03813,"type":"quantitative"},"y":{"datum":2.523,"type":"quantitative"}}},
{"data":{"values":[{}]},"mark":{"type":"text","text":"125","fontSize":21,"align":"left","baseline":"middle"},
"encoding":{"x":{"datum":0.03813,"type":"quantitative"},"y":{"datum":1.670,"type":"quantitative"}}},
{"data":{"values":[{}]},"mark":{"type":"text","text":"150","fontSize":21,"align":"left","baseline":"middle"},
"encoding":{"x":{"datum":0.03813,"type":"quantitative"},"y":{"datum":1.105,"type":"quantitative"}}},
{"data":{"values":[{}]},"mark":{"type":"text","text":"175","fontSize":21,"align":"left","baseline":"middle"},
"encoding":{"x":{"datum":0.03813,"type":"quantitative"},"y":{"datum":0.7313,"type":"quantitative"}}},
{"data":{"values":[{}]},"mark":{"type":"text","text":"195","fontSize":21,"align":"left","baseline":"middle"},
"encoding":{"x":{"datum":0.03813,"type":"quantitative"},"y":{"datum":0.4840,"type":"quantitative"}}},
{"data":{"values":[{}]},"mark":{"type":"text","text":"205","fontSize":21,"align":"left","baseline":"middle"},
"encoding":{"x":{"datum":0.03813,"type":"quantitative"},"y":{"datum":0.3203,"type":"quantitative"}}},
{"data":{"values":[{}]},"mark":{"type":"text","text":"215","fontSize":21,"align":"left","baseline":"middle"},
"encoding":{"x":{"datum":0.03813,"type":"quantitative"},"y":{"datum":0.2119,"type":"quantitative"}}}
]
},
{
"layer":[
{"layer":[
{"data":{"name":"imax"},"mark":{"type":"line","stroke":"black","strokeWidth":1.3},
"encoding":{
"x":{"field":"T","type":"quantitative","scale":{"domain":[80,240],"range":[442,733],"nice":false,"zero":false},"axis":{"orient":"bottom","offset":-217,"values":[80,90,100,110,120,130,140,150,160,170,180,190,200,210,220,230,240],"tickSize":-5,"labelPadding":11,"labelFontSize":14,"labelExpr":"datum.value % 20 == 0 ? datum.label : ''","title":"T(°C)","titleFontSize":19,"titlePadding":2}},
"y":{"field":"Imax","type":"quantitative","scale":{"type":"log","domain":[0.0523,10],"range":[199,-21],"nice":false},"axis":{"orient":"left","offset":-442,"values":[0.1,1,10],"format":"~g","tickSize":-7,"labelPadding":14,"labelFontSize":15,"title":null}}}},
{"data":{"name":"imax"},"mark":{"type":"point","filled":true,"fill":"black","stroke":"black","size":30,"opacity":1},
"encoding":{"x":{"field":"T","type":"quantitative"},"y":{"field":"Imax","type":"quantitative"}}},
{"data":{"values":[{}]},"mark":{"type":"rule","stroke":"black","strokeWidth":1.2},
"encoding":{"x":{"datum":92.3,"type":"quantitative"},"x2":{"datum":102.8},"y":{"datum":3.68,"type":"quantitative"}}},
{"data":{"values":[{}]},"mark":{"type":"point","filled":true,"fill":"white","stroke":"black","strokeWidth":1,"size":30,"opacity":1},
"encoding":{"x":{"datum":101.4,"type":"quantitative"},"y":{"datum":3.68,"type":"quantitative"}}},
{"data":{"values":[{}]},"mark":{"type":"text","text":"FWHM","fontSize":11,"align":"left","baseline":"middle"},
"encoding":{"x":{"datum":112.4,"type":"quantitative"},"y":{"datum":3.68,"type":"quantitative"}}},
{"data":{"values":[{}]},"mark":{"type":"rule","stroke":"black","strokeWidth":1.2},
"encoding":{"x":{"datum":97.8,"type":"quantitative"},"x2":{"datum":116.6},"y":{"datum":0.1845,"type":"quantitative"}}},
{"data":{"values":[{}]},"mark":{"type":"point","filled":true,"fill":"black","stroke":"black","size":30,"opacity":1},
"encoding":{"x":{"datum":107.1,"type":"quantitative"},"y":{"datum":0.1845,"type":"quantitative"}}},
{"data":{"values":[{}]},"mark":{"type":"text","text":"Imax","fontSize":11,"align":"left","baseline":"middle"},
"encoding":{"x":{"datum":117.6,"type":"quantitative"},"y":{"datum":0.1845,"type":"quantitative"}}},
{"data":{"values":[{}]},"mark":{"type":"rule","stroke":"black","strokeWidth":1.2},
"encoding":{"x":{"datum":200,"type":"quantitative"},"y":{"datum":7.59,"type":"quantitative"},"y2":{"datum":4.65}}},
{"data":{"values":[{}]},"mark":{"type":"point","shape":"M0,1L-0.58,-1L0.58,-1Z","filled":true,"fill":"black","stroke":null,"size":144,"opacity":1},
"encoding":{"x":{"datum":200,"type":"quantitative"},"y":{"datum":4.65,"type":"quantitative"}}},
{"data":{"values":[{}]},"mark":{"type":"rule","stroke":"black","strokeWidth":1.2},
"encoding":{"x":{"datum":200,"type":"quantitative"},"y":{"datum":0.129,"type":"quantitative"},"y2":{"datum":0.217}}},
{"data":{"values":[{}]},"mark":{"type":"point","shape":"M0,-1L-0.58,1L0.58,1Z","filled":true,"fill":"black","stroke":null,"size":144,"opacity":1},
"encoding":{"x":{"datum":200,"type":"quantitative"},"y":{"datum":0.217,"type":"quantitative"}}},
{"data":{"values":[{}]},"mark":{"type":"text","text":"I","fontSize":19,"align":"left","baseline":"alphabetic","angle":270,"dy":-27},
"encoding":{"x":{"datum":80,"type":"quantitative"},"y":{"datum":0.266,"type":"quantitative"}}},
{"data":{"values":[{}]},"mark":{"type":"text","text":"max","fontSize":10,"align":"left","baseline":"alphabetic","angle":270,"dy":-20},
"encoding":{"x":{"datum":80,"type":"quantitative"},"y":{"datum":0.409,"type":"quantitative"}}},
{"data":{"values":[{}]},"mark":{"type":"text","text":"(cm⁻¹)","fontSize":19,"align":"left","baseline":"alphabetic","angle":270,"dy":-27},
"encoding":{"x":{"datum":80,"type":"quantitative"},"y":{"datum":0.615,"type":"quantitative"}}},
{"data":{"values":[{}]},"mark":{"type":"text","text":"FWHM","fontSize":19,"align":"left","baseline":"alphabetic","angle":90,"dy":-37},
"encoding":{"x":{"datum":240,"type":"quantitative"},"y":{"datum":1.42,"type":"quantitative"}}}
]},
{"layer":[
{"data":{"name":"fwhm"},"mark":{"type":"line","stroke":"black","strokeWidth":1.3},
"encoding":{"x":{"field":"T","type":"quantitative"},
"y":{"field":"FWHM","type":"quantitative","scale":{"type":"log","domain":[0.001,0.02],"range":[199,-21],"nice":false},"axis":{"orient":"right","offset":118,"values":[0.001,0.01],"format":"~g","tickSize":-7,"labelPadding":9,"labelFontSize":13,"title":null}}}},
{"data":{"name":"fwhm"},"mark":{"type":"point","filled":true,"fill":"white","stroke":"black","strokeWidth":1,"size":30,"opacity":1},
"encoding":{"x":{"field":"T","type":"quantitative"},"y":{"field":"FWHM","type":"quantitative"}}}
]}
],
"resolve":{"scale":{"y":"independent"},"axis":{"y":"independent"}}
}
],
"resolve":{"scale":{"x":"independent","y":"independent"},"axis":{"x":"independent","y":"independent"}}
}
